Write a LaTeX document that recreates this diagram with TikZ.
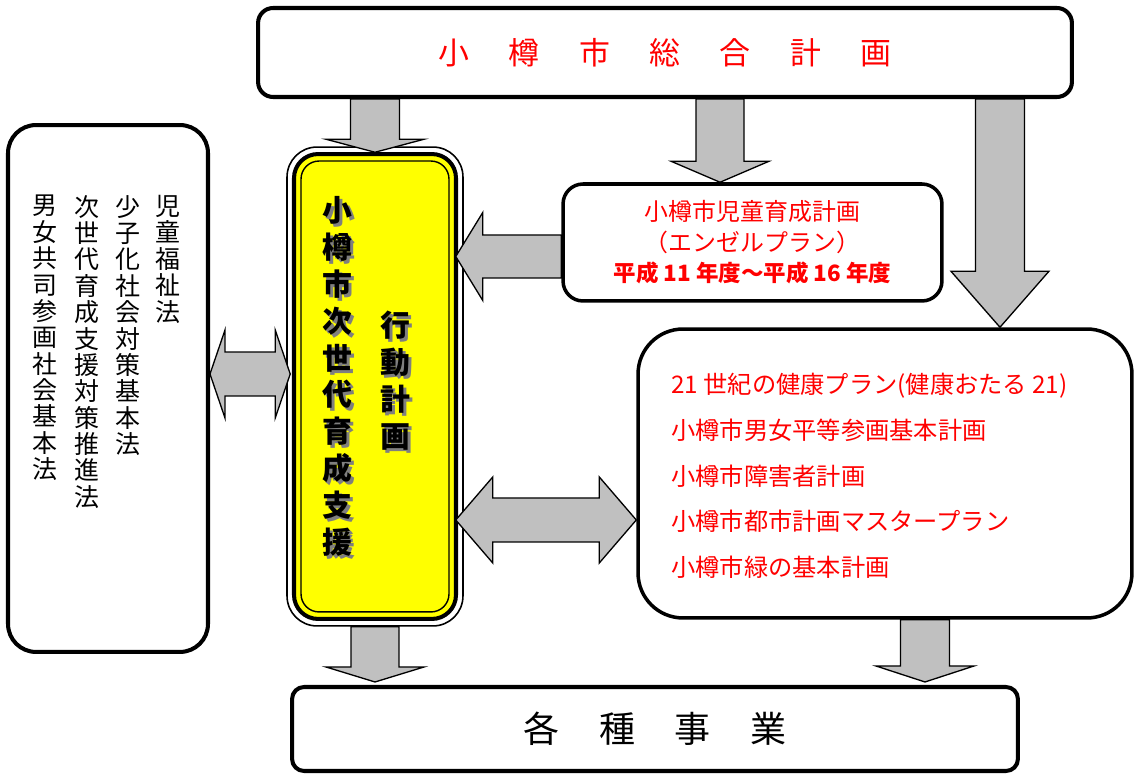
\documentclass[tikz,border=0pt]{standalone}
\usepackage{fontspec}
\setmainfont{Noto Sans CJK JP}
\usetikzlibrary{calc}

\definecolor{arrowgray}{HTML}{C0C0C0}
\definecolor{planyellow}{HTML}{FFFF00}
\definecolor{shadowgray}{HTML}{7F7F7F}

\newcommand\gap{\hspace{22.5pt}}
% 矢印: 始点, 終点, 軸の半幅, 頭の半幅, 頭の長さ
\newcommand\fatarrow[5]{%
  \coordinate (hb) at ($(#2)!#5!(#1)$);
  \draw[blockarrow] ($(#1)!#3!90:(#2)$) -- ($(hb)!#3!-90:(#1)$) -- ($(hb)!#4!-90:(#1)$) -- (#2)
    -- ($(hb)!#4!90:(#1)$) -- ($(hb)!#3!90:(#1)$) -- ($(#1)!#3!-90:(#2)$) -- cycle;}
\newcommand\fatdouble[5]{%
  \coordinate (hb1) at ($(#1)!#5!(#2)$);
  \coordinate (hb2) at ($(#2)!#5!(#1)$);
  \draw[blockarrow] (#1) -- ($(hb1)!#4!90:(#2)$) -- ($(hb1)!#3!90:(#2)$) -- ($(hb2)!#3!-90:(#1)$)
    -- ($(hb2)!#4!-90:(#1)$) -- (#2) -- ($(hb2)!#4!90:(#1)$) -- ($(hb2)!#3!90:(#1)$)
    -- ($(hb1)!#3!-90:(#2)$) -- ($(hb1)!#4!-90:(#2)$) -- cycle;}

\tikzset{
  box/.style={draw, line width=2.3pt, rounded corners=#1, fill=white, inner sep=0pt},
  blockarrow/.style={draw, line width=0.75pt, fill=arrowgray, line join=miter},
  lawcol/.style={font=\fontsize{14.2}{15}\selectfont, align=center, inner sep=0pt, anchor=north},
  plantext/.style={font=\fontsize{17}{21}\selectfont\bfseries, align=center, inner sep=0pt, anchor=north},
}

\begin{document}
\begin{tikzpicture}[x=0.02cm, y=-0.02cm]
    \useasboundingbox (0,0) rectangle (1134,776);

    % 総合計画
    \node[box=0.3cm, minimum width=16.28cm, minimum height=1.78cm, text=red,
          font=\fontsize{17.6}{20}\selectfont] (title) at (665,52.5)
        {小\gap{}樽\gap{}市\gap{}総\gap{}合\gap{}計\gap{}画};

    % 関係法
    \node[box=0.56cm, minimum width=4cm, minimum height=10.54cm] (law) at (108,388.5) {};
    \node[lawcol] (law1) at (168,195) {児\\童\\福\\祉\\法};
    \node[lawcol] (law2) at (128,195) {少\\子\\化\\社\\会\\対\\策\\基\\本\\法};
    \node[lawcol] (law3) at (87,195) {次\\世\\代\\育\\成\\支\\援\\対\\策\\推\\進\\法};
    \node[lawcol] (law4) at (45,195) {男\\女\\共\\司\\参\\画\\社\\会\\基\\本\\法};

    % 行動計画
    \node[draw, line width=0.9pt, rounded corners=0.6cm, fill=white,
          minimum width=3.52cm, minimum height=9.58cm] (plan) at (375,386.5) {};
    \node[draw, line width=2.3pt, rounded corners=0.48cm, fill=planyellow,
          minimum width=3.24cm, minimum height=9.3cm] (planmid) at (plan) {};
    \node[draw, line width=0.8pt, rounded corners=0.36cm,
          minimum width=2.96cm, minimum height=9.02cm] (planin) at (plan) {};
    \node[plantext, text=shadowgray] (plan1s) at (340,199) {小\\樽\\市\\次\\世\\代\\育\\成\\支\\援};
    \node[plantext] (plan1) at (337,196) {小\\樽\\市\\次\\世\\代\\育\\成\\支\\援};
    \node[plantext, text=shadowgray] (plan2s) at (398,314) {行\\動\\計\\画};
    \node[plantext] (plan2) at (395,311) {行\\動\\計\\画};

    % 児童育成計画
    \node[box=0.4cm, line width=2pt, minimum width=7.58cm, minimum height=2.34cm,
          align=center, text=red, font=\fontsize{13.6}{17.3}\selectfont] (angel) at (752.5,242.5)
        {小樽市児童育成計画\\（エンゼルプラン）\\\fontsize{12.8}{17.3}\selectfont\bfseries 平成 11 年度～平成 16 年度};

    % 関連計画
    \node[box=0.9cm, line width=2pt, minimum width=9.88cm, minimum height=5.78cm] (related) at (885,473.5) {};
    \node[anchor=west, align=left, text=red, inner sep=0pt,
          font=\fontsize{13.8}{26}\selectfont] (relatedtext) at (671,476)
        {21 世紀の健康プラン(健康おたる 21)\\小樽市男女平等参画基本計画\\小樽市障害者計画\\小樽市都市計画マスタープラン\\小樽市緑の基本計画};

    % 各種事業
    \node[box=0.24cm, minimum width=14.52cm, minimum height=1.68cm,
          font=\fontsize{20.5}{24}\selectfont] (works) at (655,729) {各\gap{}種\gap{}事\gap{}業};

    % 矢印
    \coordinate (a1) at (title.south -| plan.north);
    \coordinate (a2) at ([yshift=-0.12cm]plan.north);
    \fatarrow{a1}{a2}{0.49cm}{0.98cm}{0.26cm}

    \coordinate (b2) at ([xshift=-0.65cm]angel.north);
    \coordinate (b1) at (title.south -| b2);
    \fatarrow{b1}{b2}{0.48cm}{0.98cm}{0.42cm}

    \coordinate (c2) at ([xshift=2.3cm]related.north);
    \coordinate (c1) at (title.south -| c2);
    \fatarrow{c1}{c2}{0.49cm}{0.98cm}{1.12cm}

    \coordinate (d1) at ([yshift=-0.28cm]angel.west);
    \coordinate (d2) at ([xshift=-0.16cm]plan.east |- d1);
    \fatarrow{d1}{d2}{0.43cm}{0.88cm}{0.54cm}

    \coordinate (e2) at ([yshift=-0.93cm]related.west);
    \coordinate (e1) at ([xshift=-0.16cm]plan.east |- e2);
    \fatdouble{e1}{e2}{0.44cm}{0.86cm}{0.74cm}

    \coordinate (f1) at ([yshift=0.29cm]law.east);
    \coordinate (f2) at ([xshift=0.08cm]plan.west |- f1);
    \fatdouble{f1}{f2}{0.44cm}{0.88cm}{0.3cm}

    \coordinate (g1) at (plan.south);
    \coordinate (g2) at ([yshift=0.06cm]works.north -| g1);
    \fatarrow{g1}{g2}{0.48cm}{0.98cm}{0.3cm}

    \coordinate (h1) at ([xshift=0.8cm]related.south);
    \coordinate (h2) at ([yshift=0.06cm]works.north -| h1);
    \fatarrow{h1}{h2}{0.49cm}{0.98cm}{0.32cm}
\end{tikzpicture}
\end{document}
